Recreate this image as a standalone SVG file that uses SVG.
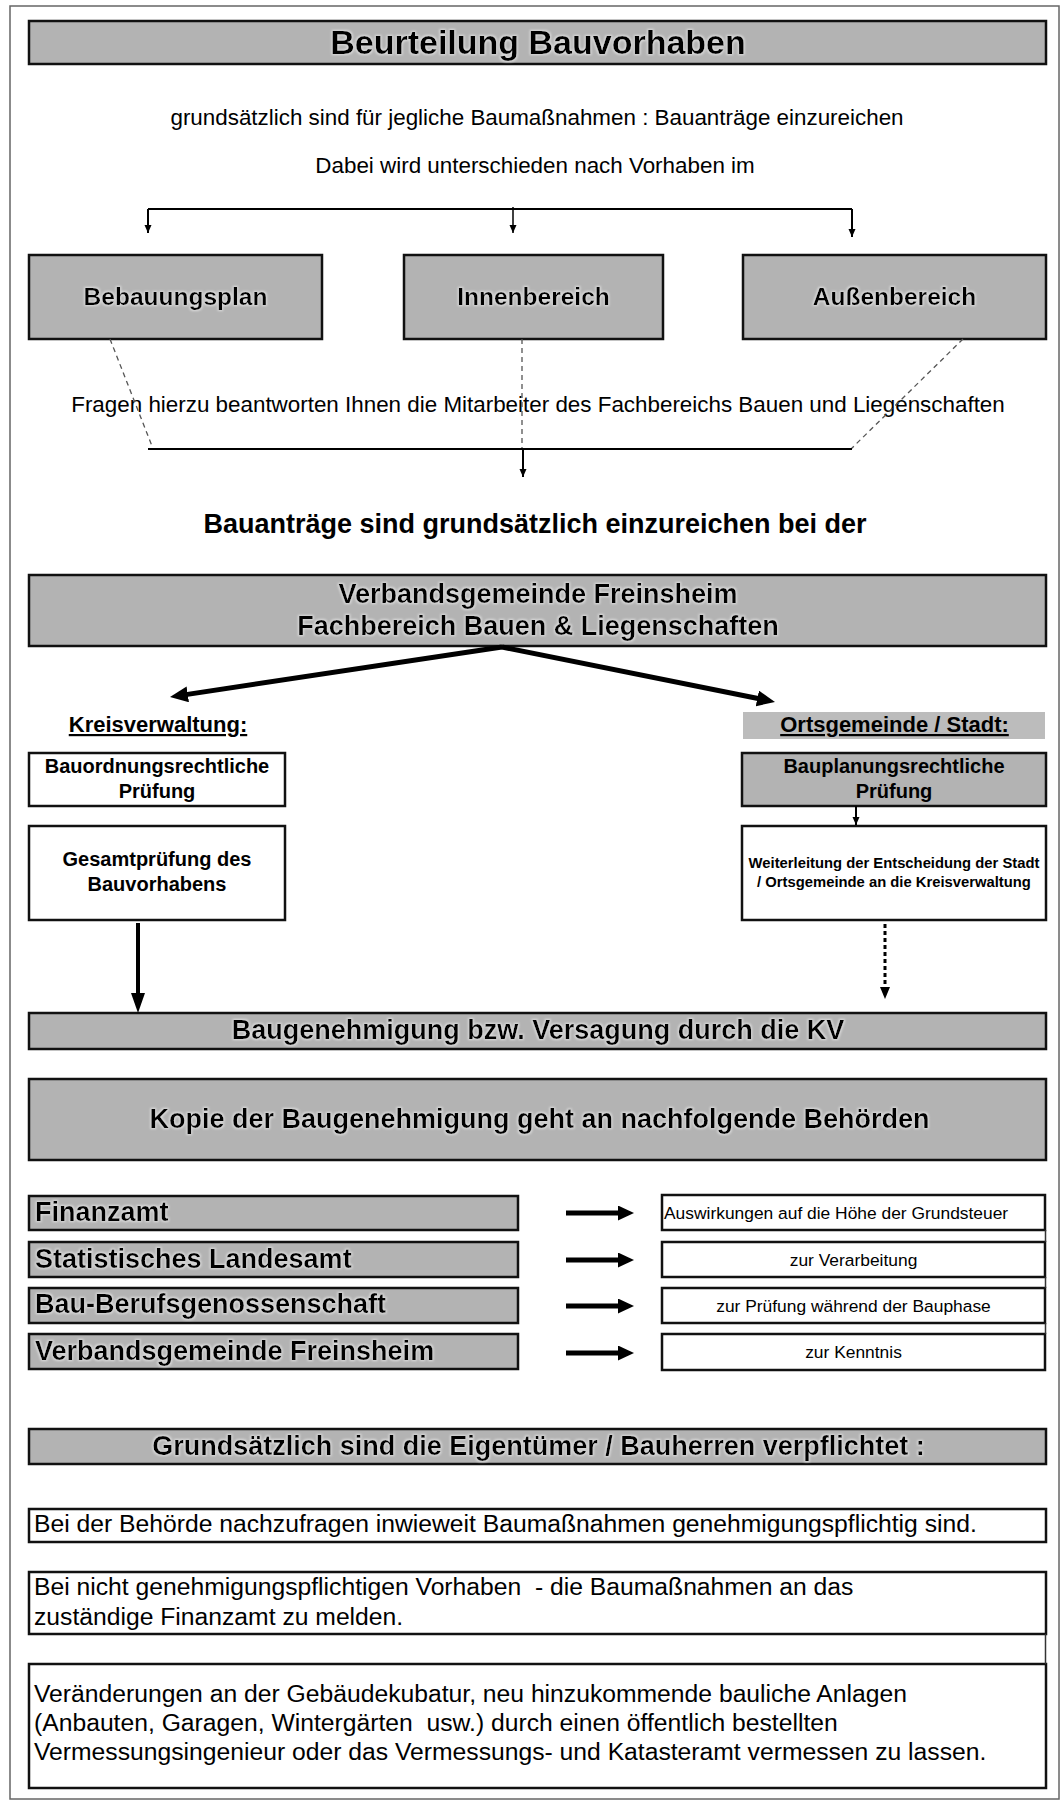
<svg xmlns="http://www.w3.org/2000/svg" width="1063" height="1806" viewBox="0 0 1063 1806">
<style>
  .frame{fill:#fff;stroke:#666;stroke-width:1.5}
  .g{fill:#b3b3b3;stroke:#111;stroke-width:2.5}
  .w{fill:#fff;stroke:#111;stroke-width:2.5}
  .lg{fill:#bcbcbc;stroke:none}
  text{font-family:"Liberation Sans",Arial,Helvetica,sans-serif;fill:#000}
  .b{font-weight:bold}
  .c{text-anchor:middle}
  .ln{fill:none;stroke:#000;stroke-width:2}
  .dash{fill:none;stroke:#555;stroke-width:1.3;stroke-dasharray:5 4}
  .thick{fill:none;stroke:#000;stroke-width:5}
  .thick4{fill:none;stroke:#000;stroke-width:4}
  .dot{fill:none;stroke:#000;stroke-width:3;stroke-dasharray:4 3}
  .sh{fill:none;stroke:#333;stroke-width:1.5}
</style>
<defs>
  <marker id="aS" markerUnits="userSpaceOnUse" markerWidth="9" markerHeight="8" refX="8" refY="3.5" orient="auto">
    <path d="M0,0 L8,3.5 L0,7 z" fill="#000"/>
  </marker>
  <marker id="aBig" markerUnits="userSpaceOnUse" markerWidth="19" markerHeight="17" refX="2" refY="8" orient="auto">
    <path d="M0,0 L18,8 L0,16 z" fill="#000"/>
  </marker>
  <marker id="aV" markerUnits="userSpaceOnUse" markerWidth="21" markerHeight="15" refX="2" refY="7" orient="auto">
    <path d="M0,0 L20,7 L0,14 z" fill="#000"/>
  </marker>
  <marker id="aD" markerUnits="userSpaceOnUse" markerWidth="13" markerHeight="11" refX="1" refY="5" orient="auto">
    <path d="M0,0 L12,5 L0,10 z" fill="#000"/>
  </marker>
  <marker id="aH" markerUnits="userSpaceOnUse" markerWidth="17" markerHeight="16" refX="2" refY="7.5" orient="auto">
    <path d="M0,0 L16,7.5 L0,15 z" fill="#000"/>
  </marker>
  <filter id="halo" x="-5%" y="-30%" width="110%" height="160%">
    <feMorphology in="SourceAlpha" operator="dilate" radius="0.6" result="d"/>
    <feGaussianBlur in="d" stdDeviation="1" result="bl"/>
    <feFlood flood-color="#dcdcdc"/>
    <feComposite in2="bl" operator="in" result="h"/>
    <feMerge><feMergeNode in="h"/><feMergeNode in="SourceGraphic"/></feMerge>
  </filter>
</defs>

<rect class="frame" x="10" y="6" width="1049" height="1793"/>

<g id="title">
  <rect class="g" x="29" y="21" width="1017" height="43"/>
  <text class="b c" x="538" y="54" font-size="34" filter="url(#halo)">Beurteilung Bauvorhaben</text>
</g>

<g id="intro">
  <text class="c" x="537" y="125" font-size="22.4">grundsätzlich sind für jegliche Baumaßnahmen : Bauanträge einzureichen</text>
  <text class="c" x="535" y="173" font-size="22.4">Dabei wird unterschieden nach Vorhaben im</text>
</g>

<g id="bebauungsplan">
  <rect class="g" x="29" y="255" width="293" height="84"/>
  <text class="b c" x="175.5" y="305" font-size="24.5" filter="url(#halo)">Bebauungsplan</text>
</g>
<g id="innenbereich">
  <rect class="g" x="404" y="255" width="259" height="84"/>
  <text class="b c" x="533.5" y="305" font-size="24.5" filter="url(#halo)">Innenbereich</text>
</g>
<g id="aussenbereich">
  <rect class="g" x="743" y="255" width="303" height="84"/>
  <text class="b c" x="894.5" y="305" font-size="24.5" filter="url(#halo)">Außenbereich</text>
</g>

<g id="fragen">
  <text class="c" x="538" y="412" font-size="22.4">Fragen hierzu beantworten Ihnen die Mitarbeiter des Fachbereichs Bauen und Liegenschaften</text>
</g>

<g id="bauantraege">
  <text class="b c" x="535" y="533" font-size="27">Bauanträge sind grundsätzlich einzureichen bei der</text>
</g>

<g id="verbandsgemeinde">
  <rect class="g" x="29" y="575" width="1017" height="71"/>
  <text class="b c" x="538" y="603" font-size="27" filter="url(#halo)">Verbandsgemeinde Freinsheim</text>
  <text class="b c" x="538" y="635" font-size="27" filter="url(#halo)">Fachbereich Bauen &amp; Liegenschaften</text>
</g>

<g id="kreisverwaltung">
  <text class="b c" x="158" y="732" font-size="22" text-decoration="underline">Kreisverwaltung:</text>
</g>
<g id="ortsgemeinde">
  <rect class="lg" x="743" y="712" width="302" height="27"/>
  <text class="b c" x="894.5" y="732" font-size="22" text-decoration="underline">Ortsgemeinde / Stadt:</text>
</g>

<g id="bauordnung">
  <rect class="w" x="29" y="753" width="256" height="53"/>
  <text class="b c" x="157" y="773" font-size="20">Bauordnungsrechtliche</text>
  <text class="b c" x="157" y="798" font-size="20">Prüfung</text>
</g>
<g id="bauplanung">
  <rect class="g" x="742" y="753" width="304" height="53"/>
  <text class="b c" x="894" y="773" font-size="20">Bauplanungsrechtliche</text>
  <text class="b c" x="894" y="798" font-size="20">Prüfung</text>
</g>
<g id="gesamtpruefung">
  <rect class="w" x="29" y="826" width="256" height="94"/>
  <text class="b c" x="157" y="866" font-size="20">Gesamtprüfung des</text>
  <text class="b c" x="157" y="891" font-size="20">Bauvorhabens</text>
</g>
<g id="weiterleitung">
  <rect class="w" x="742" y="826" width="304" height="94"/>
  <text class="b c" x="894" y="868" font-size="14.8">Weiterleitung der Entscheidung der Stadt</text>
  <text class="b c" x="894" y="887" font-size="14.8">/ Ortsgemeinde an die Kreisverwaltung</text>
</g>

<g id="baugenehmigung">
  <rect class="g" x="29" y="1013" width="1017" height="36"/>
  <text class="b c" x="538" y="1039" font-size="27" filter="url(#halo)">Baugenehmigung bzw. Versagung durch die KV</text>
</g>
<g id="kopie">
  <rect class="g" x="29" y="1079" width="1017" height="81"/>
  <text class="b c" x="539.5" y="1128" font-size="27" filter="url(#halo)">Kopie der Baugenehmigung geht an nachfolgende Behörden</text>
</g>

<g id="finanzamt">
  <rect class="g" x="29" y="1196" width="489" height="34"/>
  <text class="b" x="35" y="1221" font-size="27" filter="url(#halo)">Finanzamt</text>
</g>
<g id="statistisches-landesamt">
  <rect class="g" x="29" y="1242" width="489" height="35"/>
  <text class="b" x="35" y="1268" font-size="27" filter="url(#halo)">Statistisches Landesamt</text>
</g>
<g id="bau-berufsgenossenschaft">
  <rect class="g" x="29" y="1288" width="489" height="35"/>
  <text class="b" x="35" y="1313" font-size="27" filter="url(#halo)">Bau-Berufsgenossenschaft</text>
</g>
<g id="vg-freinsheim">
  <rect class="g" x="29" y="1334" width="489" height="35"/>
  <text class="b" x="35" y="1360" font-size="27" filter="url(#halo)">Verbandsgemeinde Freinsheim</text>
</g>

<g id="grundsteuer">
  <rect class="w" x="662" y="1195" width="383" height="35"/>
  <text x="664" y="1218.5" font-size="17.4">Auswirkungen auf die Höhe der Grundsteuer</text>
</g>
<g id="verarbeitung">
  <rect class="w" x="662" y="1242" width="383" height="35"/>
  <text class="c" x="853.5" y="1265.5" font-size="17.4">zur Verarbeitung</text>
</g>
<g id="bauphase">
  <rect class="w" x="662" y="1288" width="383" height="35"/>
  <text class="c" x="853.5" y="1311.5" font-size="17.4">zur Prüfung während der Bauphase</text>
</g>
<g id="kenntnis">
  <rect class="w" x="662" y="1334" width="383" height="36"/>
  <text class="c" x="853.5" y="1358" font-size="17.4">zur Kenntnis</text>
</g>

<g id="verpflichtet">
  <rect class="g" x="29" y="1429" width="1017" height="35"/>
  <text class="b c" x="538.5" y="1455" font-size="27" filter="url(#halo)">Grundsätzlich sind die Eigentümer / Bauherren verpflichtet :</text>
</g>
<g id="pflicht1">
  <rect class="w" x="29" y="1509" width="1017" height="33"/>
  <text x="34" y="1532" font-size="24.7">Bei der Behörde nachzufragen inwieweit Baumaßnahmen genehmigungspflichtig sind.</text>
</g>
<g id="pflicht2">
  <rect class="w" x="29" y="1572" width="1017" height="62"/>
  <text x="34" y="1595" font-size="24.7" xml:space="preserve">Bei nicht genehmigungspflichtigen Vorhaben  - die Baumaßnahmen an das</text>
  <text x="34" y="1625" font-size="24.7">zuständige Finanzamt zu melden.</text>
</g>
<g id="pflicht3">
  <rect class="w" x="29" y="1664" width="1017" height="124"/>
  <text x="34" y="1702" font-size="24.7">Veränderungen an der Gebäudekubatur, neu hinzukommende bauliche Anlagen</text>
  <text x="34" y="1731" font-size="24.7" xml:space="preserve">(Anbauten, Garagen, Wintergärten  usw.) durch einen öffentlich bestellten</text>
  <text x="34" y="1760" font-size="24.7">Vermessungsingenieur oder das Vermessungs- und Katasteramt vermessen zu lassen.</text>
</g>

<g id="connectors">
  <path class="ln" d="M148,209 H852"/>
  <path class="ln" d="M148,209 V233" marker-end="url(#aS)"/>
  <path class="ln" d="M513,207 V233" marker-end="url(#aS)" style="stroke-width:1.5"/>
  <path class="ln" d="M852,209 V237" marker-end="url(#aS)"/>

  <path class="dash" d="M110,339 L152,446"/>
  <path class="dash" d="M522,339 L522,449"/>
  <path class="dash" d="M963,339 L851,449"/>
  <path class="ln" d="M148,449 H852"/>
  <path class="ln" d="M523,449 V477" marker-end="url(#aS)"/>

  <path class="thick" d="M502,647 L185.8,694.6" marker-end="url(#aBig)"/>
  <path class="thick" d="M502,647 L759.3,698.8" marker-end="url(#aBig)"/>

  <path class="ln" d="M856,806 V825" marker-end="url(#aS)"/>

  <path class="thick4" d="M138,923 V995" marker-end="url(#aV)"/>
  <path class="dot" d="M885,924 V988" marker-end="url(#aD)"/>

  <path class="thick" d="M566,1213 H620" marker-end="url(#aH)"/>
  <path class="thick" d="M566,1260 H620" marker-end="url(#aH)"/>
  <path class="thick" d="M566,1306 H620" marker-end="url(#aH)"/>
  <path class="thick" d="M566,1353 H620" marker-end="url(#aH)"/>

  <path class="sh" d="M1045.5,1230 V1242 M1045.5,1277 V1288 M1045.5,1323 V1334"/>
  <path class="sh" d="M1045.5,1634 V1664"/>
</g>
</svg>
